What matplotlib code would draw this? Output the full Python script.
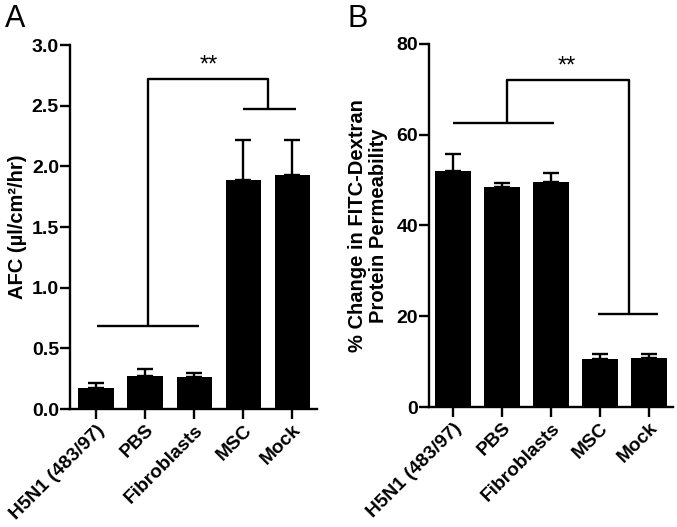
import matplotlib
matplotlib.use("Agg")
import matplotlib.pyplot as plt
import numpy as np

plt.rcParams['font.family'] = ['Liberation Sans', 'DejaVu Sans']

categories = ["H5N1 (483/97)", "PBS", "Fibroblasts", "MSC", "Mock"]
afc_values = [0.173, 0.27, 0.265, 1.89, 1.93]
afc_err = [0.04, 0.06, 0.035, 0.33, 0.29]
perm_values = [52.0, 48.4, 49.6, 10.6, 10.8]
perm_err = [3.8, 1.0, 2.0, 1.1, 0.9]

afc_ticks = [0.0, 0.5, 1.0, 1.5, 2.0, 2.5, 3.0]
perm_ticks = [0, 20, 40, 60, 80]

fig = plt.figure(figsize=(6.77, 5.27), dpi=100)
axA = fig.add_axes([70/677, 1-409/527, (317-70)/677, (409-45)/527])
axB = fig.add_axes([429/677, 1-407/527, (673-429)/677, (407-44)/527])

lw = 1.7
fs_tick = 14
fs_x = 13.8
fs_lab = 14.5

def style(ax, yticks, fmt):
    for s in ['top', 'right']:
        ax.spines[s].set_visible(False)
    for s in ['left', 'bottom']:
        ax.spines[s].set_linewidth(lw)
    ax.set_yticks(yticks)
    ax.set_yticklabels([fmt.format(t) for t in yticks], fontsize=fs_tick, fontweight='bold')
    ax.set_xticks(range(len(categories)))
    ax.set_xticklabels(categories, rotation=45, ha='right', rotation_mode='anchor',
                       fontsize=fs_x, fontweight='bold')
    ax.tick_params(axis='y', direction='out', length=7, width=lw, pad=1)
    ax.tick_params(axis='x', direction='out', length=7, width=lw, pad=2)

def bars(ax, vals, errs):
    x = np.arange(len(vals))
    ax.bar(x, vals, width=0.72, color='black', zorder=2)
    ax.errorbar(x, vals, yerr=[np.zeros(len(vals)), errs], fmt='none',
                ecolor='black', elinewidth=lw, capsize=6, capthick=lw, zorder=1)

# Panel A
bars(axA, afc_values, afc_err)
axA.set_xlim(-0.53, 4.5)
axA.set_ylim(0, 3.0)
style(axA, afc_ticks, "{:.1f}")
axA.set_ylabel("AFC (µl/cm²/hr)", fontsize=fs_lab, fontweight='bold', labelpad=3)
kw = dict(color='black', lw=lw, clip_on=False, solid_capstyle='butt')
axA.plot([0.02, 2.1], [0.68, 0.68], **kw)
axA.plot([1.06, 1.06, 3.51, 3.51], [0.68, 2.72, 2.72, 2.47], **kw)
axA.plot([3.0, 4.08], [2.47, 2.47], **kw)
axA.text(2.3, 2.74, "**", ha='center', va='bottom', fontsize=17)

# Panel B
bars(axB, perm_values, perm_err)
axB.set_xlim(-0.49, 4.49)
axB.set_ylim(0, 80)
style(axB, perm_ticks, "{:d}")
axB.set_ylabel("% Change in FITC-Dextran\nProtein Permeability", fontsize=fs_lab,
               fontweight='bold', labelpad=6, linespacing=1.1)
axB.plot([0.0, 2.06], [62.6, 62.6], **kw)
axB.plot([1.1, 1.1, 3.6, 3.6], [62.6, 72.1, 72.1, 20.5], **kw)
axB.plot([2.96, 4.18], [20.5, 20.5], **kw)
axB.text(2.33, 72.6, "**", ha='center', va='bottom', fontsize=17)

fig.text(5/677, 1-4/527, "A", fontsize=22, ha='left', va='top')
fig.text(347/677, 1-4/527, "B", fontsize=22, ha='left', va='top')

fig.savefig("out.png", dpi=100)
